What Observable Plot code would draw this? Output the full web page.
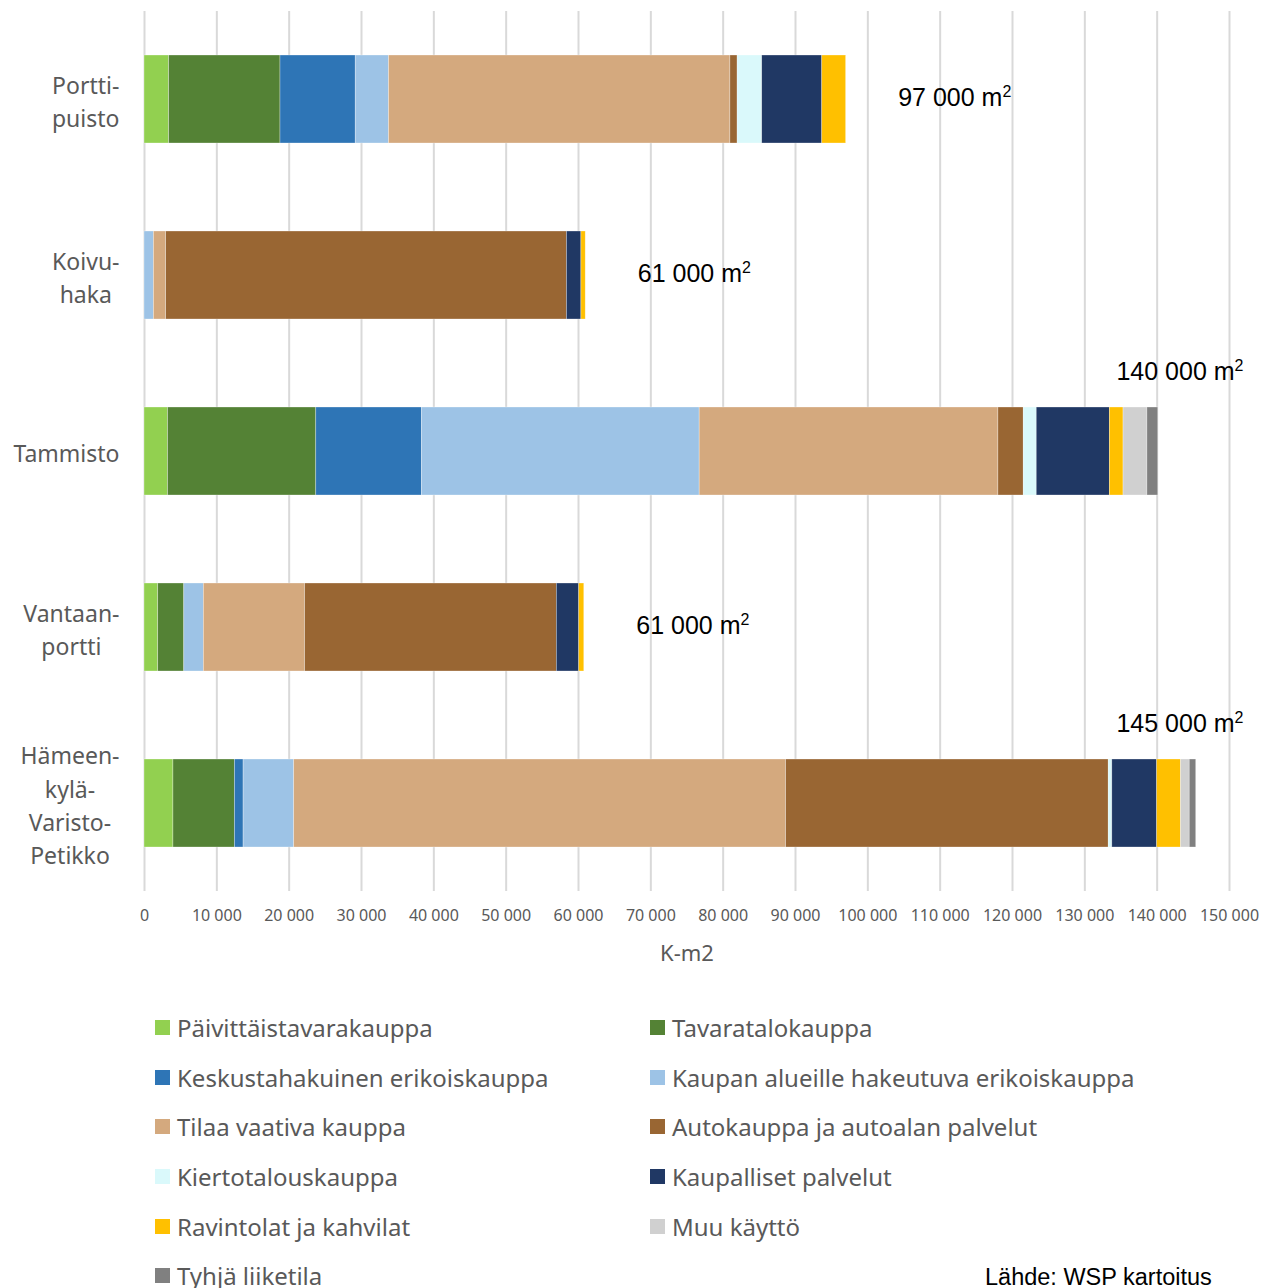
<!DOCTYPE html>
<html><head><meta charset="utf-8">
<script src="https://cdn.jsdelivr.net/npm/d3@7"></script>
<script src="https://cdn.jsdelivr.net/npm/@observablehq/plot@0.6"></script>
<style>
body{margin:0;background:#fff;width:1262px;height:1288px;position:relative;overflow:hidden;font-family:"Noto Sans",sans-serif;}
#chart{position:absolute;left:0;top:0;}
#legend{position:absolute;left:155px;top:1003px;display:grid;grid-template-columns:495px 495px;grid-auto-rows:49.6px;align-items:center;}
.item{display:flex;align-items:center;font-size:24px;color:#595959;white-space:nowrap;}
.sw{width:15px;height:15px;margin-right:7px;flex:none;}
#source{position:absolute;left:985px;top:1266px;font-family:"Liberation Sans",Arial,sans-serif;font-size:23.5px;line-height:1;color:#000;}
</style></head><body>
<div id="chart"></div><div id="legend"></div><div id="source">Lähde: WSP kartoitus</div>
<script>
// ---- data ----
const areas = ["Portti-\npuisto", "Koivu-\nhaka", "Tammisto", "Vantaan-\nportti", "Hämeen-\nkylä-\nVaristo-\nPetikko"];
const seriesNames = ["Päivittäistavarakauppa", "Tavaratalokauppa", "Keskustahakuinen erikoiskauppa", "Kaupan alueille hakeutuva erikoiskauppa", "Tilaa vaativa kauppa", "Autokauppa ja autoalan palvelut", "Kiertotalouskauppa", "Kaupalliset palvelut", "Ravintolat ja kahvilat", "Muu käyttö", "Tyhjä liiketila"];
const paivittaistavara = [3400, 0, 3250, 1900, 4000];
const tavaratalo       = [15400, 0, 20500, 3600, 8500];
const keskusta         = [10400, 0, 14600, 0, 1200];
const kaupanAlueille   = [4600, 1300, 38400, 2700, 7000];
const tilaaVaativa     = [47200, 1700, 41300, 14000, 68000];
const autokauppa       = [1000, 55400, 3500, 34800, 44600];
const kiertotalous     = [3400, 0, 1800, 0, 500];
const kaupalliset      = [8300, 2000, 10100, 3100, 6200];
const ravintolat       = [3300, 600, 1900, 700, 3300];
const muuKaytto        = [0, 0, 3300, 0, 1200];
const tyhja            = [0, 0, 1500, 0, 900];
const totalLabels = ["97 000 m2", "61 000 m2", "140 000 m2", "61 000 m2", "145 000 m2"];
const xTicks = [0, 10000, 20000, 30000, 40000, 50000, 60000, 70000, 80000, 90000, 100000, 110000, 120000, 130000, 140000, 150000];
// ---- styles ----
const seriesColors = ["#92D050", "#548235", "#2E75B6", "#9DC3E6", "#D4A97E", "#996633", "#DAF9FB", "#203864", "#FFC000", "#D0D0D0", "#808080"];

const seriesValues = [paivittaistavara, tavaratalo, keskusta, kaupanAlueille, tilaaVaativa, autokauppa, kiertotalous, kaupalliset, ravintolat, muuKaytto, tyhja];
const rows = [];
seriesNames.forEach((s, i) => areas.forEach((a, j) => rows.push({area: a, series: s, value: seriesValues[i][j]})));
const totals = areas.map((a, j) => ({area: a, total: d3.sum(seriesValues, v => v[j]), label: totalLabels[j]}));
const fmt = d3.formatLocale({thousands: " ", grouping: [3], decimal: ",", currency: ["", ""]}).format(",");

const chart = Plot.plot({
  width: 1262, height: 975,
  marginLeft: 144, marginRight: 33, marginTop: 11, marginBottom: 84,
  style: {fontFamily: "'Noto Sans', sans-serif", background: "#fff"},
  x: {domain: [0, 150000]},
  y: {domain: areas, paddingInner: 0.5, paddingOuter: 0.25},
  color: {domain: seriesNames, range: seriesColors},
  marks: [
    Plot.gridX(xTicks, {stroke: "#d9d9d9", strokeWidth: 2, strokeOpacity: 1}),
    Plot.barX(rows, {x: "value", y: "area", fill: "series", stroke: "#fff", strokeWidth: 0.6, strokeOpacity: 0.5}),
    Plot.axisX({ticks: xTicks, tickFormat: fmt, tickSize: 0, tickPadding: 18, fontSize: 16, color: "#595959", label: null}),
    Plot.axisY({tickSize: 0, tickPadding: 25, fontSize: 23, color: "#595959", lineHeight: 1.45, label: null}),
    Plot.text(["K-m2"], {frameAnchor: "bottom", dy: 69, fontSize: 22, fill: "#595959"}),
    Plot.text(totals.filter(d => d.total < 100000), {x: "total", y: "area", text: "label", textAnchor: "start", dx: 52, dy: -2, fontSize: 25, fill: "#000", fontFamily: "'Liberation Sans', Arial, sans-serif", className: "totlab"}),
    Plot.text(totals.filter(d => d.total >= 100000), {x: () => 150000, y: "area", text: "label", textAnchor: "end", dx: 14, dy: -80, fontSize: 25, fill: "#000", fontFamily: "'Liberation Sans', Arial, sans-serif", className: "totlab"})
  ]
});
document.getElementById("chart").appendChild(chart);

// superscript the "2" of m2 in the total labels
chart.querySelectorAll('.totlab text').forEach(t => {
  const s = t.textContent;
  if (s.endsWith("m2")) {
    t.textContent = s.slice(0, -1);
    const ts = document.createElementNS("http://www.w3.org/2000/svg", "tspan");
    ts.setAttribute("font-size", "16");
    ts.setAttribute("dy", "-9");
    ts.textContent = "2";
    t.appendChild(ts);
  }
});

// center multi-line y labels within their block (Excel style)
chart.querySelectorAll('g[aria-label="y-axis tick label"] text').forEach(t => {
  const w = t.getBBox().width;
  t.setAttribute("text-anchor", "middle");
  const tr = t.getAttribute("transform") || "";
  t.setAttribute("transform", tr + ` translate(${-w / 2},0)`);
});

// legend from the plot's color scale
const cs = chart.scale("color");
const legend = document.getElementById("legend");
cs.domain.forEach((name, i) => {
  const it = document.createElement("div");
  it.className = "item";
  const sw = document.createElement("span");
  sw.className = "sw";
  sw.style.background = cs.range[i];
  it.appendChild(sw);
  it.appendChild(document.createTextNode(name));
  legend.appendChild(it);
});
</script>
</body></html>
